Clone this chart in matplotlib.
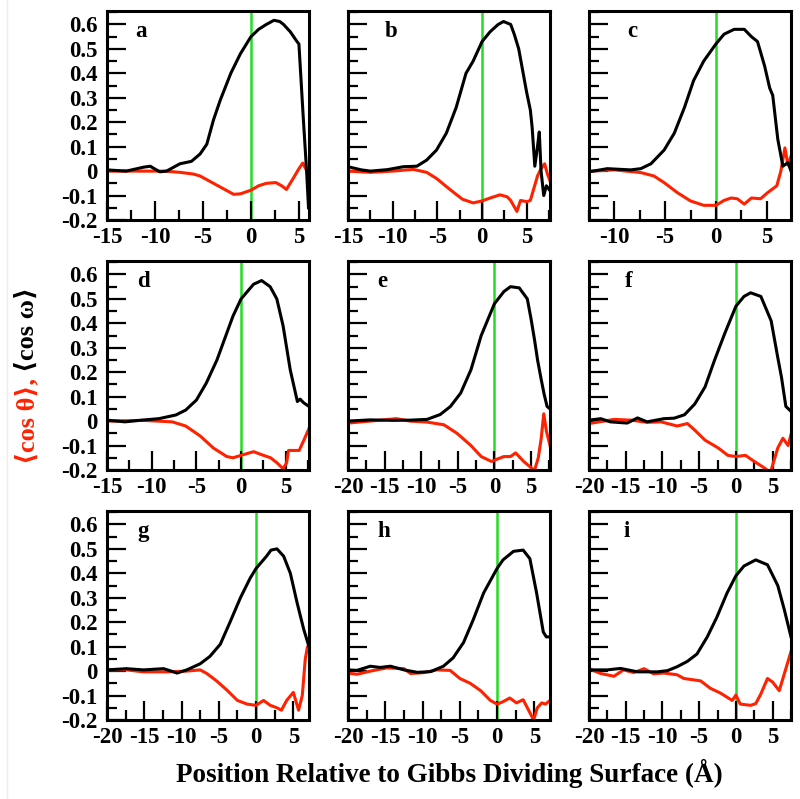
import matplotlib
matplotlib.use("Agg")
from matplotlib import pyplot as plt
from matplotlib.ticker import MultipleLocator, FuncFormatter
from matplotlib.lines import Line2D

plt.rcParams['font.family'] = ['Liberation Serif', 'DejaVu Serif', 'DejaVu Sans']
plt.rcParams['font.weight'] = 'bold'
plt.rcParams['axes.unicode_minus'] = False

RED = '#ff2200'
GREEN = '#22dd22'

# panel a
a_xw = [-15, -13, -11.2, -10.5, -9.5, -8.8, -7.4, -6.2, -5.3, -4.6, -3.9, -3.2, -2.1, -1.1, 0,
        0.8, 1.6, 2.4, 3.0, 3.4, 4.1, 4.8, 5.0, 5.45, 5.8, 6.0]
a_yw = [0.005, 0.0, 0.016, 0.02, -0.003, 0.0, 0.03, 0.04, 0.07, 0.11, 0.21, 0.29, 0.40, 0.48, 0.55,
        0.58, 0.60, 0.617, 0.612, 0.60, 0.57, 0.53, 0.52, 0.22, 0.0, -0.15]
a_xt = [-15, -12, -9, -7.4, -6, -5.3, -3.9, -2.5, -1.8, -1.1, 0, 0.8, 1.6, 2.6, 3.2, 3.7, 4.4, 5.0, 5.4, 5.7, 6.0]
a_yt = [0.0, 0.0, 0.0, -0.005, -0.012, -0.02, -0.05, -0.08, -0.095, -0.093, -0.078, -0.06, -0.05, -0.047,
        -0.06, -0.075, -0.03, 0.01, 0.033, 0.01, -0.01]

# panel b
b_xw = [-15, -13.5, -12.5, -10.6, -8.8, -7.3, -6.2, -5.1, -4.0, -2.9, -1.8, -1.0, 0, 0.9, 1.8, 2.4, 3.2,
        3.6, 4.1, 4.6, 5.0, 5.4, 5.6, 5.9, 6.2, 6.4, 6.6, 6.9, 7.2, 7.6]
b_yw = [0.018, 0.005, 0.0, 0.006, 0.018, 0.02, 0.045, 0.086, 0.155, 0.26, 0.40, 0.45, 0.53, 0.57, 0.60,
        0.612, 0.60, 0.56, 0.50, 0.40, 0.32, 0.25, 0.18, 0.02, 0.10, 0.16, 0.0, -0.1, -0.06, -0.08]
b_xt = [-15, -12.5, -10, -7.7, -6.2, -5.1, -3.6, -2.2, -1.0, 0, 0.9, 2.0, 2.8, 3.2, 3.9, 4.3, 5.0, 5.4,
        5.8, 6.2, 6.6, 7.0, 7.3, 7.6]
b_yt = [0.0, -0.005, 0.0, 0.007, -0.005, -0.03, -0.075, -0.115, -0.13, -0.122, -0.11, -0.097, -0.105,
        -0.12, -0.165, -0.12, -0.125, -0.12, -0.07, -0.02, 0.01, 0.03, -0.01, -0.04]

# panel c
c_xw = [-12.5, -10.7, -8.4, -7.4, -6.4, -5.1, -4.1, -3.1, -2.2, -1.2, 0, 0.8, 1.8, 2.8, 3.5, 4.1, 4.8,
        5.3, 5.6, 6.1, 6.6, 7.1, 7.4]
c_yw = [-0.003, 0.01, 0.005, 0.01, 0.03, 0.086, 0.155, 0.26, 0.37, 0.45, 0.52, 0.56, 0.58, 0.58, 0.55,
        0.53, 0.43, 0.34, 0.31, 0.13, 0.02, 0.035, 0.0]
c_xt = [-12.5, -10, -7.4, -6.1, -5.1, -3.8, -2.5, -1.2, 0, 0.8, 1.5, 2.1, 2.8, 3.5, 4.4, 5.1, 6.0, 6.4,
        6.8, 7.1, 7.4]
c_yt = [0.0, 0.005, -0.006, -0.02, -0.047, -0.088, -0.122, -0.14, -0.14, -0.12, -0.11, -0.113, -0.135,
        -0.11, -0.113, -0.088, -0.06, 0.0, 0.095, 0.025, 0.06]

# panel d
d_xw = [-15, -13, -11.1, -9.2, -7.3, -6.2, -5.0, -3.9, -2.7, -1.6, -0.9, 0, 1.4, 2.3, 3.25, 4.0, 4.7,
        5.5, 6.3, 6.6, 7.0, 7.6]
d_yw = [0.004, -0.003, 0.004, 0.01, 0.025, 0.045, 0.086, 0.155, 0.25, 0.36, 0.43, 0.50, 0.56, 0.575,
        0.55, 0.50, 0.39, 0.21, 0.08, 0.09, 0.075, 0.06]
d_xt = [-15, -11, -7.7, -6.2, -4.6, -3.1, -1.6, -0.9, 0, 1.4, 2.5, 3.3, 4.0, 4.7, 5.1, 5.3, 5.7, 6.5,
        7.0, 7.6]
d_yt = [0.0, 0.003, -0.003, -0.02, -0.06, -0.11, -0.145, -0.15, -0.14, -0.125, -0.14, -0.15, -0.17,
        -0.195, -0.17, -0.12, -0.12, -0.12, -0.08, -0.03]

# panel e
e_xw = [-20, -17, -13.8, -11.5, -9.2, -7.4, -6.0, -4.6, -3.2, -1.8, 0, 1.3, 2.2, 3.4, 4.5, 5.0, 5.5,
        5.9, 6.4, 6.8, 7.2, 7.6]
e_yw = [0.0, 0.005, 0.003, 0.004, 0.007, 0.027, 0.06, 0.115, 0.21, 0.35, 0.48, 0.53, 0.55, 0.545, 0.50,
        0.42, 0.33, 0.25, 0.17, 0.11, 0.06, 0.05]
e_xt = [-20, -17, -13.4, -11.5, -9.2, -6.9, -5.1, -3.2, -1.8, -0.4, 0, 1.3, 2.2, 2.9, 4.0, 5.2, 5.5,
        6.0, 6.4, 6.75, 7.1, 7.6]
e_yt = [-0.008, 0.0, 0.01, 0.0, -0.004, -0.015, -0.05, -0.1, -0.145, -0.165, -0.16, -0.145, -0.145,
        -0.13, -0.165, -0.195, -0.2, -0.15, -0.07, 0.03, -0.04, -0.1]

# panel f
f_xw = [-20, -18.4, -17.1, -14.8, -13.4, -12.1, -9.8, -8.4, -7.0, -5.6, -4.2, -2.9, -1.5, 0, 1.1, 2.0,
        3.4, 4.8, 5.7, 6.2, 6.8, 7.5]
f_yw = [0.004, 0.01, -0.003, -0.008, 0.013, -0.003, 0.01, 0.012, 0.026, 0.07, 0.14, 0.25, 0.36, 0.47,
        0.51, 0.525, 0.51, 0.41, 0.26, 0.18, 0.06, 0.04]
f_xt = [-20, -16.6, -14.3, -12.1, -10.2, -8.0, -6.6, -5.6, -4.2, -2.4, -1.1, 0, 1.3, 2.5, 3.8, 4.7,
        5.7, 6.4, 7.1, 7.5]
f_yt = [-0.01, 0.007, 0.004, -0.005, -0.003, -0.02, -0.01, -0.037, -0.078, -0.11, -0.14, -0.145, -0.14,
        -0.165, -0.19, -0.21, -0.11, -0.07, -0.1, -0.055]

# panel g
g_xw = [-20, -17.4, -15.1, -12.4, -10.6, -9.3, -7.5, -6.2, -4.8, -3.5, -2.1, -0.8, 0, 1.4, 2.0, 2.8,
        3.7, 4.6, 5.5, 6.4, 7.1]
g_yw = [0.005, 0.01, 0.005, 0.01, -0.008, 0.005, 0.03, 0.06, 0.11, 0.2, 0.3, 0.38, 0.42, 0.47, 0.495,
        0.5, 0.47, 0.4, 0.28, 0.17, 0.1]
g_xt = [-20, -17.4, -15.1, -11.9, -9.3, -7.5, -6.6, -5.3, -3.9, -2.5, -1.2, 0, 1.0, 1.9, 2.8, 3.4, 4.1,
        5.0, 5.7, 6.2, 6.6, 6.9, 7.1]
g_yt = [0.005, 0.005, -0.003, -0.003, 0.0, 0.005, -0.01, -0.04, -0.078, -0.12, -0.135, -0.14, -0.12,
        -0.14, -0.15, -0.16, -0.12, -0.087, -0.16, -0.1, 0.05, 0.1, 0.08]

# panel h
h_xw = [-20, -18.8, -17.0, -15.7, -14.3, -12.5, -10.7, -8.9, -7.2, -5.9, -4.5, -3.2, -1.8, 0, 0.8, 2.2,
        3.5, 4.4, 5.3, 6.2, 6.6, 7.1]
h_yw = [0.005, 0.003, 0.02, 0.015, 0.02, 0.005, -0.005, -0.002, 0.02, 0.054, 0.117, 0.21, 0.32, 0.42,
        0.455, 0.49, 0.495, 0.46, 0.32, 0.16, 0.14, 0.14]
h_xt = [-20, -18.8, -17, -14.8, -12.5, -11.6, -9.8, -8.1, -6.3, -5.0, -3.6, -2.2, -0.9, 0, 0.8, 1.7,
        2.6, 3.5, 4.4, 4.9, 5.4, 6.0, 6.5, 7.1]
h_yt = [-0.008, -0.013, 0.0, 0.013, 0.01, -0.01, -0.006, 0.005, 0.003, -0.03, -0.05, -0.08, -0.12,
        -0.135, -0.125, -0.11, -0.13, -0.117, -0.17, -0.2, -0.15, -0.13, -0.135, -0.12]

# panel i
i_xw = [-20, -17.5, -15.7, -13.4, -10.7, -9.3, -8.0, -6.6, -5.3, -3.9, -2.6, -1.2, 0, 1.1, 2.7, 4.3,
        5.7, 6.6, 7.5]
i_yw = [0.005, 0.005, 0.011, -0.003, -0.003, 0.002, 0.018, 0.04, 0.07, 0.14, 0.22, 0.32, 0.39, 0.43,
        0.455, 0.435, 0.35, 0.25, 0.14]
i_xt = [-20, -18.4, -16.6, -15.3, -13.9, -12.5, -11.2, -9.8, -8.0, -7.1, -4.8, -3.5, -2.1, -0.5, 0,
        0.6, 2.0, 2.7, 3.4, 4.3, 5.0, 5.9, 6.6, 7.5]
i_yt = [0.01, -0.01, -0.021, 0.005, -0.006, 0.01, -0.011, -0.008, -0.015, -0.03, -0.04, -0.07, -0.09,
        -0.12, -0.098, -0.135, -0.14, -0.133, -0.093, -0.03, -0.045, -0.08, -0.01, 0.08]

letters = ['a', 'b', 'c', 'd', 'e', 'f', 'g', 'h', 'i']
xlims = [(-15, 6.05), (-15, 7.6), (-12.5, 7.4), (-15, 7.6), (-20, 7.6), (-20, 7.5),
         (-20, 7.1), (-20, 7.1), (-20, 7.5)]
letter_x = [0.14, 0.18, 0.19, 0.15, 0.145, 0.18, 0.15, 0.145, 0.17]

panels = [(a_xw, a_yw, a_xt, a_yt), (b_xw, b_yw, b_xt, b_yt), (c_xw, c_yw, c_xt, c_yt),
          (d_xw, d_yw, d_xt, d_yt), (e_xw, e_yw, e_xt, e_yt), (f_xw, f_yw, f_xt, f_yt),
          (g_xw, g_yw, g_xt, g_yt), (h_xw, h_yw, h_xt, h_yt), (i_xw, i_yw, i_xt, i_yt)]

W, H = 800, 799
fig = plt.figure(figsize=(W / 100, H / 100), dpi=100)

col_left = [107, 348, 589]
row_top = [11, 261, 511]
pw, ph = 202, 209

def yfmt(v, pos):
    if abs(v) < 1e-9:
        return '0'
    return '%.1f' % v

for k, (xw, yw, xt, yt) in enumerate(panels):
    r, c = divmod(k, 3)
    ax = fig.add_axes([col_left[c] / W, 1 - (row_top[r] + ph) / H, pw / W, ph / H])
    ax.axvline(0, color=GREEN, lw=1.8, zorder=1)
    ax.plot(xw, yw, color='black', lw=2.2, zorder=3)
    ax.plot(xt, yt, color=RED, lw=2.2, zorder=2)
    ax.set_xlim(*xlims[k])
    ax.set_ylim(-0.2, 0.655)
    ax.xaxis.set_major_locator(MultipleLocator(5))
    ax.xaxis.set_minor_locator(MultipleLocator(2.5))
    ax.yaxis.set_major_locator(MultipleLocator(0.1))
    ax.yaxis.set_minor_locator(MultipleLocator(0.05))
    ax.xaxis.set_major_formatter(FuncFormatter(lambda v, p: '%d' % round(v)))
    ax.yaxis.set_major_formatter(FuncFormatter(yfmt))
    ax.tick_params(which='both', direction='in', top=False, right=False, width=1.6, labelsize=16.5)
    ax.tick_params(which='major', length=14)
    ax.tick_params(which='minor', length=7)
    ax.tick_params(axis='x', pad=5)
    ax.tick_params(axis='y', pad=7)
    if c != 0:
        ax.tick_params(axis='y', labelleft=False)
    for s in ax.spines.values():
        s.set_linewidth(2.2)
    ax.text(letter_x[k], 0.875, letters[k], transform=ax.transAxes, fontsize=16.5,
            fontweight='bold', ha='left', va='baseline')

fig.text(449 / W, 1 - 773 / H, 'Position Relative to Gibbs Dividing Surface (\u00c5)',
         fontsize=19.5, fontweight='bold', ha='center', va='center')

# y label in two colours
t1 = fig.text(27 / W, 1 - 464 / H, '\u27e8cos \u03b8\u27e9,', color=RED, fontsize=19,
              fontweight='bold', rotation=90, ha='center', va='bottom')
fig.canvas.draw()
bb = t1.get_window_extent()
fig.text(27 / W, (bb.y1 + 6) / H, '\u27e8cos \u03c9\u27e9', color='black', fontsize=19,
         fontweight='bold', rotation=90, ha='center', va='bottom')

fig.add_artist(Line2D([7 / W, 7 / W], [0.0, 1.0], color='#e4f4e4', lw=1))

fig.savefig('out.png', dpi=100)
